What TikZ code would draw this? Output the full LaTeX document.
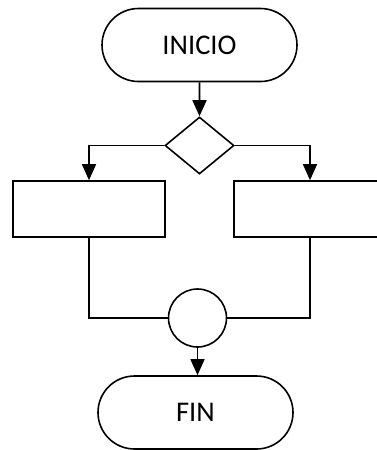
\documentclass[tikz,border=0pt]{standalone}
\usepackage{fontspec}
\setmainfont{Carlito}
\usetikzlibrary{shapes.misc,shapes.geometric,arrows.meta}
\begin{document}
\begin{tikzpicture}[x=1pt,y=-1pt,
  every path/.style={line width=1.6pt},
  term/.style={draw,line width=1.6pt,rounded rectangle,minimum width=195pt,minimum height=73pt,inner sep=0pt,font=\fontsize{28.5}{31}\selectfont},
  procbox/.style={draw,line width=1.6pt,rectangle,minimum width=152pt,minimum height=56pt,inner sep=0pt},
  decis/.style={draw,line width=1.6pt,diamond,minimum width=69pt,minimum height=57pt,inner sep=0pt},
  conn/.style={draw,line width=1.6pt,circle,minimum size=58pt,inner sep=0pt},
  arr/.style={-{Triangle[length=16pt,width=14pt]},line width=1.6pt}]
\useasboundingbox (0,0) rectangle (377,450);
\node[term] (ini) at (199.5,45) {INICIO};
\node[decis] (dec) at (199.5,145.5) {};
\node[procbox] (boxL) at (89,209) {};
\node[procbox] (boxR) at (310,209) {};
\node[conn] (circ) at (197.5,318) {};
\node[term] (fin) at (195.5,412.5) {FIN};
\draw[arr] (ini) -- (dec);
\draw[arr] (dec.west) -| (boxL.north);
\draw[arr] (dec.east) -| (boxR.north);
\draw (boxL.south) |- (circ.west);
\draw (boxR.south) |- (circ.east);
\draw[arr] (circ.south) -- (circ.south |- fin.north);
\end{tikzpicture}
\end{document}
